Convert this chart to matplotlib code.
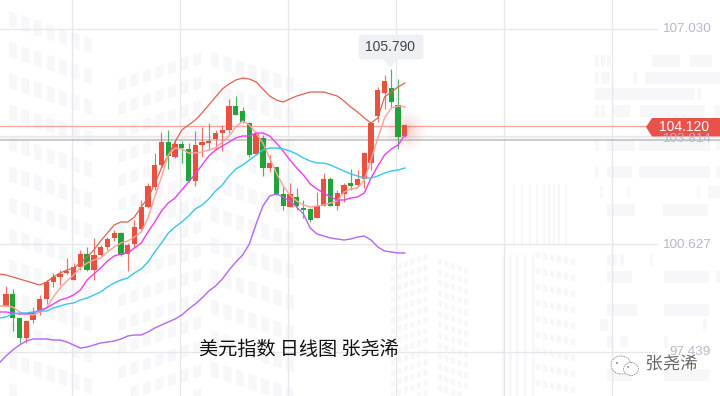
import matplotlib
matplotlib.use("Agg")
import matplotlib.pyplot as plt
from matplotlib.patches import Polygon, FancyBboxPatch, Ellipse, Rectangle
import matplotlib.patheffects as pe

plt.rcParams['font.family'] = ['Liberation Sans', 'DejaVu Sans']

# Daily candles, US dollar index
opens = [98.72,99.08,98.36,97.76,98.30,98.60,98.93,99.44,99.59,99.71,99.50,99.89,100.28,99.80,100.25,100.49,100.76,100.91,100.28,100.58,
         101.03,101.69,102.29,102.95,103.64,103.19,103.58,103.43,102.47,103.55,103.61,103.73,103.91,104.00,104.72,104.57,104.21,103.28,103.76,102.86,
         102.89,102.08,101.69,101.99,101.66,101.63,101.36,101.72,102.53,101.72,102.08,102.41,102.35,102.53,103.01,104.42,105.11,105.26,104.75,103.82]
highs = [99.32,99.23,98.36,98.30,98.69,99.05,99.50,99.71,99.80,100.16,100.01,100.40,100.49,100.76,100.55,100.79,101.00,100.94,100.61,101.30,
         101.90,102.41,103.31,103.94,104.00,103.70,103.67,103.61,103.97,104.09,104.21,104.00,104.15,104.93,105.02,104.69,104.24,103.91,103.85,103.25,
         102.89,102.29,102.41,102.26,101.90,101.66,102.14,102.71,102.59,102.20,102.41,102.83,102.80,103.34,104.21,105.29,105.65,105.83,105.53,104.18]
lows = [98.72,97.97,97.61,97.61,98.21,98.45,98.78,99.29,99.35,99.68,99.50,99.80,99.77,99.50,100.22,100.40,100.67,100.22,99.77,100.49,
        101.00,101.66,102.20,102.89,102.83,103.16,103.01,102.44,102.32,103.19,103.40,103.40,103.37,103.91,104.45,104.21,103.19,103.25,102.62,102.74,
        102.05,101.60,101.69,101.60,101.36,101.24,101.36,101.72,101.72,101.60,101.84,102.20,102.29,102.26,102.80,104.24,104.63,104.66,103.43,103.79]
closes = [99.08,98.36,97.76,98.27,98.51,98.93,99.44,99.59,99.68,99.77,99.89,100.28,99.80,100.25,100.49,100.73,100.91,100.25,100.55,101.09,
          101.69,102.32,102.95,103.64,103.22,103.58,103.46,102.47,103.55,103.64,103.67,103.91,104.00,104.72,104.45,104.24,103.25,103.88,102.86,103.01,
          102.08,101.72,102.08,101.72,101.60,101.30,101.72,102.53,101.72,102.11,102.35,102.32,102.53,103.31,104.21,105.20,105.47,104.84,103.79,104.15]

# Overlay lines: first value belongs to the session before the first candle
boll_upper = [99.68,99.65,99.59,99.53,99.47,99.41,99.35,99.44,99.59,99.71,99.80,99.86,100.01,100.19,100.40,100.67,100.91,101.15,101.24,101.24,101.39,
              101.69,101.96,102.38,102.86,103.25,103.64,104.00,104.15,104.30,104.51,104.75,104.99,105.23,105.38,105.50,105.56,105.53,105.44,105.23,105.02,
              104.90,104.84,104.93,105.02,105.08,105.14,105.14,105.14,105.08,105.02,104.87,104.69,104.54,104.36,104.21,104.36,104.99,105.14,105.29,105.41]
ma5 = [98.72,98.72,98.69,98.54,98.48,98.45,98.54,98.66,98.99,99.26,99.47,99.65,99.86,100.01,100.10,100.16,100.34,100.49,100.61,100.67,100.79,
       100.94,101.36,101.99,102.59,103.25,103.46,103.43,103.31,103.31,103.34,103.40,103.46,103.64,103.82,104.09,104.27,104.15,103.91,103.61,103.16,
       102.71,102.32,102.05,101.87,101.75,101.69,101.72,101.75,101.81,101.87,102.14,102.23,102.26,102.50,103.10,103.76,104.36,104.66,104.72,104.69]
ma10 = [98.54,98.54,98.51,98.48,98.48,98.51,98.60,98.66,98.78,98.90,98.96,99.05,99.20,99.50,99.68,99.86,100.07,100.22,100.28,100.31,100.46,
        100.61,100.94,101.24,101.57,101.81,101.96,102.20,102.44,102.68,102.95,103.22,103.40,103.52,103.64,103.76,103.82,103.82,103.91,103.91,103.82,
        103.61,103.37,103.10,102.86,102.65,102.38,102.23,102.11,101.99,101.90,101.90,101.96,101.99,102.11,102.56,102.92,103.25,103.43,103.55,103.85]
ma20 = [98.36,98.39,98.48,98.51,98.51,98.54,98.57,98.57,98.66,98.72,98.78,98.81,98.90,98.96,99.05,99.14,99.29,99.41,99.50,99.56,99.71,
        99.83,100.04,100.34,100.61,100.91,101.09,101.24,101.42,101.63,101.75,101.93,102.17,102.35,102.62,102.83,102.95,103.10,103.25,103.40,103.46,
        103.46,103.43,103.37,103.28,103.16,103.07,103.01,103.01,102.95,102.86,102.77,102.68,102.62,102.56,102.56,102.62,102.71,102.77,102.80,102.86]
boll_lower = [97.01,97.22,97.40,97.55,97.67,97.73,97.73,97.73,97.70,97.70,97.64,97.55,97.46,97.49,97.55,97.61,97.64,97.67,97.73,97.82,97.85,
              97.85,97.94,98.06,98.15,98.24,98.33,98.45,98.63,98.78,98.96,99.17,99.32,99.53,99.80,100.04,100.25,100.58,101.18,101.72,102.02,
              102.08,101.99,101.87,101.69,101.48,101.06,100.88,100.82,100.76,100.73,100.70,100.73,100.79,100.82,100.70,100.49,100.37,100.34,100.31,100.31]

y_tick_pos = [107.045, 103.82, 100.58, 97.355]
y_tick_labels = ["107.030", "103.814", "100.627", "97.439"]
x_grid_idx = [9.77, 25.75, 41.73, 57.7, 73.68, 89.66]
last_label = "104.120"
high_label = "105.790"
caption = "美元指数 日线图 张尧浠"
logo_text = "张尧浠"

RED, GREEN = "#e9503f", "#21a33a"
WM = "#f7f7f9"

fig = plt.figure(figsize=(7.2, 3.96), dpi=100, facecolor="white")

# ---- pixel-space background watermark ----
bg = fig.add_axes([0, 0, 1, 1], zorder=0)
bg.set_xlim(0, 720); bg.set_ylim(396, 0); bg.axis("off")

def wing(x0, ncols, dx, slope, y0, dy, w, h, ymax=396):
    for c in range(ncols):
        x = x0 + c * dx
        y = y0 + slope * (x - x0)
        while y < ymax:
            bg.add_patch(Polygon([(x - w/2, y - h/2 - slope*w/2), (x + w/2, y - h/2 + slope*w/2),
                                  (x + w/2, y + h/2 + slope*w/2), (x - w/2, y + h/2 - slope*w/2)],
                                 closed=True, fc=WM, ec="none"))
            y += dy

wing(13, 7, 12.5, 0.33, 20, 31, 8, 15)
wing(122, 7, 12.5, -0.33, 84, 24, 8, 12)
wing(215, 7, 12.5, 0.33, 60, 31, 8, 15)
wing(393, 6, 6.5, -0.33, 268, 10.5, 4, 6)
wing(440, 5, 6.5, 0.33, 262, 10.5, 4, 6)
wing(538, 6, 7, 0.2, 255, 16, 4.5, 7)
for sx in [502, 509, 516, 524, 532]:
    bg.add_patch(Rectangle((sx, 255), 2.5, 141, fc=WM, ec="none"))
for sx in [513, 521, 529, 536, 543, 548, 553, 558, 565]:
    bg.add_patch(Rectangle((sx, 184), 1.5, 62, fc=WM, ec="none"))
bars = [(61,[(595,4),(601,4),(607,4),(652,28),(690,22)]),
        (78,[(595,4),(601,9),(633,4),(645,75)]),
        (94,[(595,100),(697,4)]),
        (111,[(595,4),(601,4),(613,17),(640,65),(715,5)]),
        (145,[(595,4),(607,28),(639,71),(716,4)]),
        (172,[(595,4),(607,25),(639,71),(716,4)]),
        (192,[(600,3),(627,3),(697,3),(708,12)]),
        (210,[(607,28),(663,45)]),
        (260,[(607,10),(620,4),(650,3)]),
        (277,[(607,25),(664,45),(716,4)]),
        (310,[(607,30),(664,45)]),
        (325,[(600,8),(703,4)]),
        (342,[(607,5),(620,8),(664,4)]),
        (375,[(607,25),(664,45)])]
for yb, segs in bars:
    for sx, sw in segs:
        bg.add_patch(Rectangle((sx, yb - 6), sw, 12, fc=WM, ec="none"))

# ---- main chart ----
ax = fig.add_axes([0, 0, 1, 1], zorder=1)
ax.patch.set_alpha(0)
ax.set_xlim(-6/6.76, (720-6)/6.76)
ax.set_ylim(107.9 - 0.03*396, 107.9)
ax.axis("off")

for xg in x_grid_idx:
    ax.axvline(xg, color="#e6e6ee", lw=0.9, zorder=1)
for yt in y_tick_pos:
    ax.plot([-1, 96.3], [yt, yt], color="#e6e6ee", lw=0.9, zorder=1)

ax.axhline(103.79, color="#efeff1", lw=1.0, zorder=1)
ax.axhline(103.70, color="#bdbdbd", lw=1.1, zorder=2)
ax.axhline(closes[-1] - 0.04, color="#f7a39c", lw=0.9, zorder=2)

idx = list(range(len(closes)))
line_idx = list(range(-1, len(closes)))

# glow behind the last candle
for s, a in [(900, .02), (650, .03), (430, .04), (260, .05), (130, .07), (60, .08)]:
    ax.scatter(idx[-1], closes[-1] - 0.15, s=s, color="#f0503c", alpha=a, lw=0, zorder=2)

colors = [RED if c >= o else GREEN for o, c in zip(opens, closes)]
ax.vlines(idx, lows, highs, colors=colors, lw=0.85, alpha=0.8, zorder=3)
ax.bar(idx, [abs(c - o) for o, c in zip(opens, closes)], bottom=[min(o, c) for o, c in zip(opens, closes)],
       width=0.78, color=colors, lw=0, zorder=4)

ax.plot(line_idx, boll_upper, color="#e0604f", lw=0.9, zorder=5)
ax.plot(line_idx, ma5, color="#fba39c", lw=1.05, zorder=5)
ax.plot(line_idx, ma10, color="#f03cf0", lw=1.0, zorder=5)
ax.plot(line_idx, ma20, color="#35c8ea", lw=1.0, zorder=5)
ax.plot(line_idx, boll_lower, color="#b266f5", lw=1.0, zorder=5)

# ---- overlay: labels, tooltip, price tag, caption, logo ----
fg = fig.add_axes([0, 0, 1, 1], zorder=2)
fg.patch.set_alpha(0)
fg.set_xlim(0, 720); fg.set_ylim(396, 0); fg.axis("off")

for lab, yp in zip(y_tick_labels, [29, 139, 245, 352]):
    fg.text(711, yp, lab, ha="right", va="center", fontsize=9.7, color="#b6b9c9")

fg.add_patch(Polygon([(646, 127), (652, 118), (720, 118), (720, 136.5), (652, 136.5)], closed=True, fc="#e9524a", ec="none"))
fg.text(684.5, 127.3, last_label, ha="center", va="center", fontsize=10, color="white")

fg.add_patch(FancyBboxPatch((360, 36), 62, 22, boxstyle="round,pad=0,rounding_size=2", fc="#eef0f3", ec="#eef0f3", lw=2))
fg.add_patch(Polygon([(384, 59), (397, 59), (390.5, 68)], closed=True, fc="#eef0f3", ec="none"))
fg.text(390.5, 47, high_label, ha="center", va="center", fontsize=10, color="#444444")

fg.text(298.5, 349, caption, ha="center", va="center", fontsize=13.8, color="#111111",
        family=['Noto Sans CJK SC', 'DejaVu Sans'])

for (cx, cy, w, h) in [(621, 365, 20, 18), (631, 369, 15, 13)]:
    fg.add_patch(Ellipse((cx, cy), w, h, fc="white", ec="#8f8f8f", lw=0.6, ls=(0, (2, 1))))
fg.add_patch(Ellipse((617, 363), 1.8, 1.8, fc="#777777", ec="none"))
fg.add_patch(Ellipse((628, 367), 1.8, 1.8, fc="#777777", ec="none"))
fg.text(671.5, 364, logo_text, ha="center", va="center", fontsize=12.5, color="#666666",
        family=['Noto Sans CJK SC', 'DejaVu Sans'],
        path_effects=[pe.withStroke(linewidth=1.5, foreground="white")])

fig.savefig("out.png", dpi=100)
